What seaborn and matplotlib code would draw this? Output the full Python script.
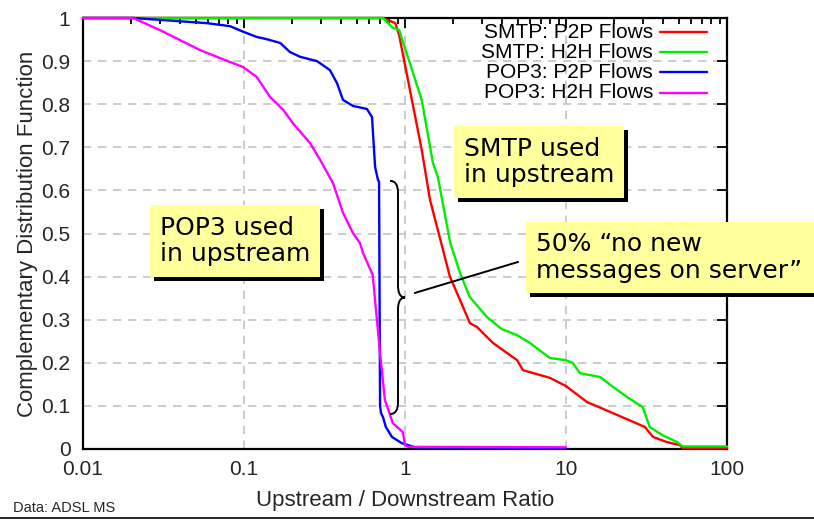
import numpy as np
import pandas as pd
import matplotlib
matplotlib.use("Agg")
import matplotlib.pyplot as plt
import seaborn as sns
from matplotlib.patches import Rectangle, PathPatch
from matplotlib.path import Path
from matplotlib.lines import Line2D
from matplotlib.ticker import FixedLocator, FixedFormatter, LogLocator, NullFormatter

# ---------------- data ----------------
series_names = ["SMTP: P2P Flows", "SMTP: H2H Flows", "POP3: P2P Flows", "POP3: H2H Flows"]
series_colors = ["#ff0000", "#00ee00", "#0000ff", "#ff00ff"]

smtp_p2p_x = [0.01, 0.73, 0.87, 0.92, 1.27, 1.43, 1.6, 1.9, 2.29, 2.53, 2.8, 3.52, 4.97, 5.4,
              7.95, 10, 13.5, 18.8, 26.1, 30.9, 34.7, 42.4, 51, 53, 100]
smtp_p2p_y = [1.0, 1.0, 0.988, 0.96, 0.694, 0.578, 0.508, 0.40, 0.33, 0.292, 0.283, 0.246, 0.206, 0.183,
              0.165, 0.146, 0.109, 0.086, 0.063, 0.051, 0.028, 0.016, 0.009, 0.002, 0.002]

smtp_h2h_x = [0.01, 0.73, 0.84, 0.92, 1.27, 1.49, 1.6, 1.91, 2.2, 2.52, 3.23, 4.0, 4.97, 5.97,
              7.95, 10, 11.0, 12.2, 16.3, 19.6, 23.9, 30.0, 33.1, 39.8, 49, 53, 100]
smtp_h2h_y = [1.0, 1.0, 0.977, 0.972, 0.81, 0.664, 0.631, 0.478, 0.408, 0.353, 0.306, 0.278, 0.264, 0.246,
              0.211, 0.206, 0.20, 0.176, 0.167, 0.144, 0.121, 0.097, 0.051, 0.032, 0.016, 0.006, 0.006]

pop3_p2p_x = [0.01, 0.0205, 0.059, 0.082, 0.099, 0.12, 0.138, 0.168, 0.193, 0.223, 0.284, 0.342,
              0.378, 0.412, 0.475, 0.58, 0.624, 0.652, 0.68, 0.69, 0.70, 0.71, 0.73, 0.76, 0.83,
              0.95, 1.15, 10]
pop3_p2p_y = [1.0, 1.0, 0.988, 0.981, 0.968, 0.956, 0.951, 0.942, 0.921, 0.91, 0.90, 0.879,
              0.849, 0.81, 0.796, 0.789, 0.77, 0.654, 0.624, 0.62, 0.10, 0.083, 0.074, 0.051, 0.028,
              0.014, 0.004, 0.002]

pop3_h2h_x = [0.01, 0.0205, 0.030, 0.053, 0.071, 0.099, 0.12, 0.145, 0.175, 0.201, 0.257, 0.297,
              0.357, 0.412, 0.475, 0.525, 0.548, 0.63, 0.70, 0.75, 0.84, 0.97, 1.0, 1.05, 10]
pop3_h2h_y = [1.0, 1.0, 0.972, 0.926, 0.907, 0.886, 0.863, 0.817, 0.787, 0.756, 0.71, 0.671,
              0.617, 0.548, 0.501, 0.478, 0.455, 0.404, 0.222, 0.114, 0.06, 0.039, 0.009, 0.005, 0.004]

x_ticks = [0.01, 0.1, 1, 10, 100]
x_tick_labels = ["0.01", "0.1", "1", "10", "100"]
y_ticks = [0, 0.1, 0.2, 0.3, 0.4, 0.5, 0.6, 0.7, 0.8, 0.9, 1.0]
y_tick_labels = ["0", "0.1", "0.2", "0.3", "0.4", "0.5", "0.6", "0.7", "0.8", "0.9", "1"]

x_label = "Upstream / Downstream Ratio"
y_label = "Complementary Distribution Function"
note_smtp = "SMTP used\nin upstream"
note_pop3 = "POP3 used\nin upstream"
note_nonew = "50% \u201cno new\nmessages on server\u201d"
source_note = "Data: ADSL MS"

# brace annotation (data units)
brace_top, brace_bottom, brace_tip_x = 0.622, 0.081, 1.0
leader_start = (1.15, 0.362)
leader_end = (5.04, 0.434)

# ---------------- figure ----------------
sns.set_theme(style="white")
plt.rcParams["font.family"] = ["Liberation Sans", "DejaVu Sans"]

W, H = 814, 520
fig = plt.figure(figsize=(W / 100, H / 100), dpi=100)
fig.patch.set_facecolor("white")
ax = fig.add_axes([83 / W, 1 - 449 / H, (727 - 83) / W, (449 - 18) / H])

frames = []
for name, xs, ys in zip(series_names,
                        [smtp_p2p_x, smtp_h2h_x, pop3_p2p_x, pop3_h2h_x],
                        [smtp_p2p_y, smtp_h2h_y, pop3_p2p_y, pop3_h2h_y]):
    frames.append(pd.DataFrame({"ratio": xs, "ccdf": ys, "series": name}))
df = pd.concat(frames, ignore_index=True)

sns.lineplot(data=df, x="ratio", y="ccdf", hue="series", hue_order=series_names,
             palette=series_colors, estimator=None, sort=False, linewidth=1.7,
             legend=False, ax=ax)
for ln in ax.lines:
    ln.set_clip_on(False)
    ln.set_zorder(3)

ax.set_xscale("log")
ax.set_xlim(0.01, 100)
ax.set_ylim(0, 1)
ax.xaxis.set_major_locator(FixedLocator(x_ticks))
ax.xaxis.set_major_formatter(FixedFormatter(x_tick_labels))
ax.xaxis.set_minor_locator(LogLocator(base=10, subs=np.arange(2, 10), numticks=20))
ax.xaxis.set_minor_formatter(NullFormatter())
ax.yaxis.set_major_locator(FixedLocator(y_ticks))
ax.yaxis.set_major_formatter(FixedFormatter(y_tick_labels))

ax.tick_params(which="both", direction="in", top=True, right=True, color="black", width=1.3)
ax.tick_params(which="major", length=7, labelsize=15, pad=8)
ax.tick_params(which="minor", length=4)
ax.tick_params(axis="y", which="major", pad=9)
for s in ax.spines.values():
    s.set_color("black")
    s.set_linewidth(1.6)
    s.set_zorder(2.5)

ax.set_axisbelow(True)
ax.grid(True, which="major", color="#c4c4c4", linestyle=(0, (5, 4)), linewidth=1.2)
ax.grid(False, which="minor")

ax.set_xlabel(x_label, fontsize=16)
ax.set_ylabel(y_label, fontsize=16)
ax.xaxis.set_label_coords(0.5, (449 - 490) / 431)
ax.yaxis.set_label_coords((38 - 83) / 644, 0.5)

# legend: text right-aligned, sample line to the right (gnuplot style)
def axfx(px):
    return (px - 83) / 644

def axfy(py):
    return (449 - py) / 431

legend_rows = [32, 52, 72, 93]
for name, col, py in zip(series_names, series_colors, legend_rows):
    ax.text(axfx(653), axfy(py), name, transform=ax.transAxes, ha="right", va="center",
            fontsize=15, color="black", zorder=6)
    ax.add_line(Line2D([axfx(660), axfx(707)], [axfy(py), axfy(py)], transform=ax.transAxes,
                       color=col, lw=1.7, zorder=6))

# brace (built in display space from data anchor values)
fig.canvas.draw()

def disp(x, y):
    return ax.transData.transform((x, y))

tipx, midy = disp(brace_tip_x, (brace_top + brace_bottom) / 2)
_, ytop = disp(brace_tip_x, brace_top)
_, ybot = disp(brace_tip_x, brace_bottom)
bx = tipx - 7      # brace spine
ex = tipx - 15     # brace ends
c = 12
verts = [(ex, ytop), (bx - 2, ytop), (bx, ytop - 5), (bx, ytop - c),
         (bx, midy + c),
         (bx, midy + 5), (bx + 2, midy), (tipx, midy),
         (bx + 2, midy), (bx, midy - 5), (bx, midy - c),
         (bx, ybot + c),
         (bx, ybot + 5), (bx - 2, ybot), (ex, ybot)]
codes = [Path.MOVETO, Path.CURVE4, Path.CURVE4, Path.CURVE4,
         Path.LINETO,
         Path.CURVE4, Path.CURVE4, Path.CURVE4,
         Path.CURVE4, Path.CURVE4, Path.CURVE4,
         Path.LINETO,
         Path.CURVE4, Path.CURVE4, Path.CURVE4]
fig.add_artist(PathPatch(Path(verts, codes), transform=None, facecolor="none",
                         edgecolor="black", lw=1.4, zorder=5))

ax.annotate("", xy=leader_end, xytext=leader_start,
            arrowprops=dict(arrowstyle="-", color="black", lw=1.4, shrinkA=0, shrinkB=0))

# yellow callout boxes with shadow
def callout(x0, y0, x1, y1, text, tx):
    def r_(a0, b0, a1, b1, **kw):
        return Rectangle((a0 / W, 1 - b1 / H), (a1 - a0) / W, (b1 - b0) / H,
                         transform=fig.transFigure, **kw)
    fig.add_artist(r_(x0 + 4, y0 + 4, x1 + 4, y1 + 4, facecolor="black", edgecolor="none", zorder=6))
    fig.add_artist(r_(x0, y0, x1, y1, facecolor="#ffff9c", edgecolor="none", zorder=7))
    fig.text(tx / W, 1 - (y0 + y1) / 2 / H, text, ha="left", va="center", fontsize=18,
             family=["DejaVu Sans"], color="black", linespacing=1.15, zorder=8)

callout(454, 126, 624, 198, note_smtp, 464)
callout(150, 205, 320, 277, note_pop3, 160)
callout(526, 222, 840, 293, note_nonew, 536)

fig.text(13 / W, 1 - 512 / H, source_note, ha="left", va="baseline", fontsize=10.5)
fig.add_artist(Line2D([0, 1], [1 - 518 / H, 1 - 518 / H], transform=fig.transFigure,
                      color="black", lw=1.2))

fig.savefig("out.png", dpi=100)
